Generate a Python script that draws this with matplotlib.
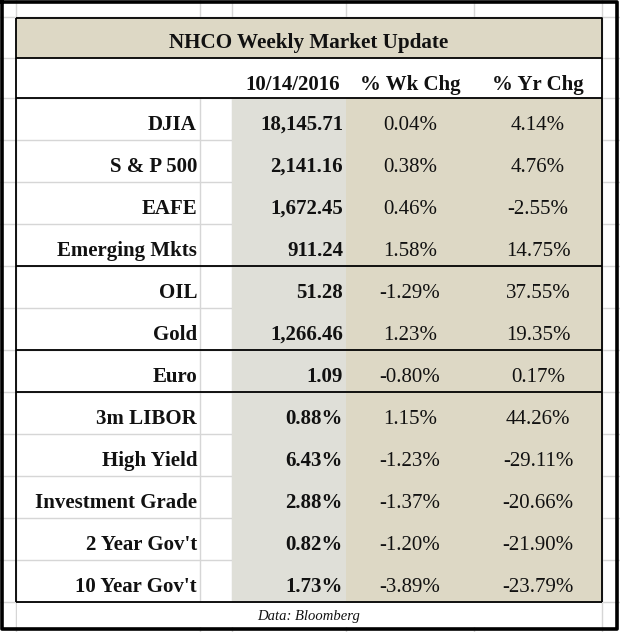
import matplotlib.pyplot as plt

# table data
title = "NHCO Weekly Market Update"
headers = ["10/14/2016", "% Wk Chg", "% Yr Chg"]
names = ["DJIA", "S & P 500", "EAFE", "Emerging Mkts", "OIL", "Gold", "Euro",
         "3m LIBOR", "High Yield", "Investment Grade", "2 Year Gov't", "10 Year Gov't"]
levels = ["18,145.71", "2,141.16", "1,672.45", "911.24", "51.28", "1,266.46", "1.09",
          "0.88%", "6.43%", "2.88%", "0.82%", "1.73%"]
wk_chg = ["0.04%", "0.38%", "0.46%", "1.58%", "-1.29%", "1.23%", "-0.80%",
          "1.15%", "-1.23%", "-1.37%", "-1.20%", "-3.89%"]
yr_chg = ["4.14%", "4.76%", "-2.55%", "14.75%", "37.55%", "19.35%", "0.17%",
          "44.26%", "-29.11%", "-20.66%", "-21.90%", "-23.79%"]
group_ends = [3, 5, 6]  # thick line below these rows
source = "Data: Bloomberg"

W, H = 620, 632
fig = plt.figure(figsize=(W / 100, H / 100), dpi=100)
ax = fig.add_axes([0, 0, 1, 1])
ax.set_xlim(0, W)
ax.set_ylim(H, 0)
ax.axis("off")

tan = "#DDD8C5"
gray = "#DFDFD8"
grid = "#D6D6D6"
serif = ["Liberation Serif", "DejaVu Serif"]

x0, x1, x2, x3, x4 = 16, 232, 346, 474, 602
y_title, y_head, y_body = 18, 58, 98
rh = 42
n = len(names)
y_end = y_body + rh * n

# excel gridlines
for gx in [16, 200, 232, 346, 474, 602]:
    ax.plot([gx, gx], [0, H], color=grid, lw=1, zorder=0)
for gy in [17, 58] + [y_body + rh * i for i in range(n + 1)]:
    ax.plot([0, W], [gy, gy], color=grid, lw=1, zorder=0)

# fills
ax.fill_between([x0, x4], y_title, y_head, color=tan, lw=0, zorder=1)
ax.fill_between([x0, x4], y_head, y_body, color="white", lw=0, zorder=1)
ax.fill_between([x1, x2], y_body, y_end, color=gray, lw=0, zorder=1)
ax.fill_between([x2, x4], y_body, y_end, color=tan, lw=0, zorder=1)
ax.fill_between([x0 + 1, x4 - 1], y_end + 1, 627, color="white", lw=0, zorder=1)

# black borders
k = dict(color="black", lw=1.3, zorder=3, solid_capstyle="butt")
ax.plot([x0, x4, x4, x0, x0], [y_title, y_title, y_head, y_head, y_title], **k)
ax.plot([x0, x0], [y_head, y_end], **k)
ax.plot([x4, x4], [y_head, y_end], **k)
ax.plot([x0, x4], [y_body, y_body], **k)
ax.plot([x0, x4], [y_end, y_end], **k)
for g in group_ends:
    yy = y_body + rh * (g + 1)
    ax.plot([x0, x4], [yy, yy], **k)
ax.plot([2, 617, 617, 2, 2], [2, 2, 629, 629, 2], color="black", lw=2.6, zorder=3)

fs = 15
txt = dict(va="baseline", family=serif, zorder=4, color="#111111")
ax.text(309, 48, title, ha="center", fontsize=15.2, fontweight="bold", **txt)
hy = 90
ax.text(x2 - 6, hy, headers[0], ha="right", fontsize=fs, fontweight="bold", **txt)
ax.text(410, hy, headers[1], ha="center", fontsize=fs, fontweight="bold", **txt)
ax.text(538, hy, headers[2], ha="center", fontsize=fs, fontweight="bold", **txt)

for i in range(n):
    by = y_body + rh * i + 32
    ax.text(197, by, names[i], ha="right", fontsize=fs, fontweight="bold", **txt)
    ax.text(x2 - 3, by, levels[i], ha="right", fontsize=fs, fontweight="bold", **txt)
    ax.text(410, by, wk_chg[i], ha="center", fontsize=fs, **txt)
    ax.text(538, by, yr_chg[i], ha="center", fontsize=fs, **txt)

ax.text(309, 620, source, ha="center", fontsize=10.5, style="italic", **txt)

fig.savefig("out.png", dpi=100)
